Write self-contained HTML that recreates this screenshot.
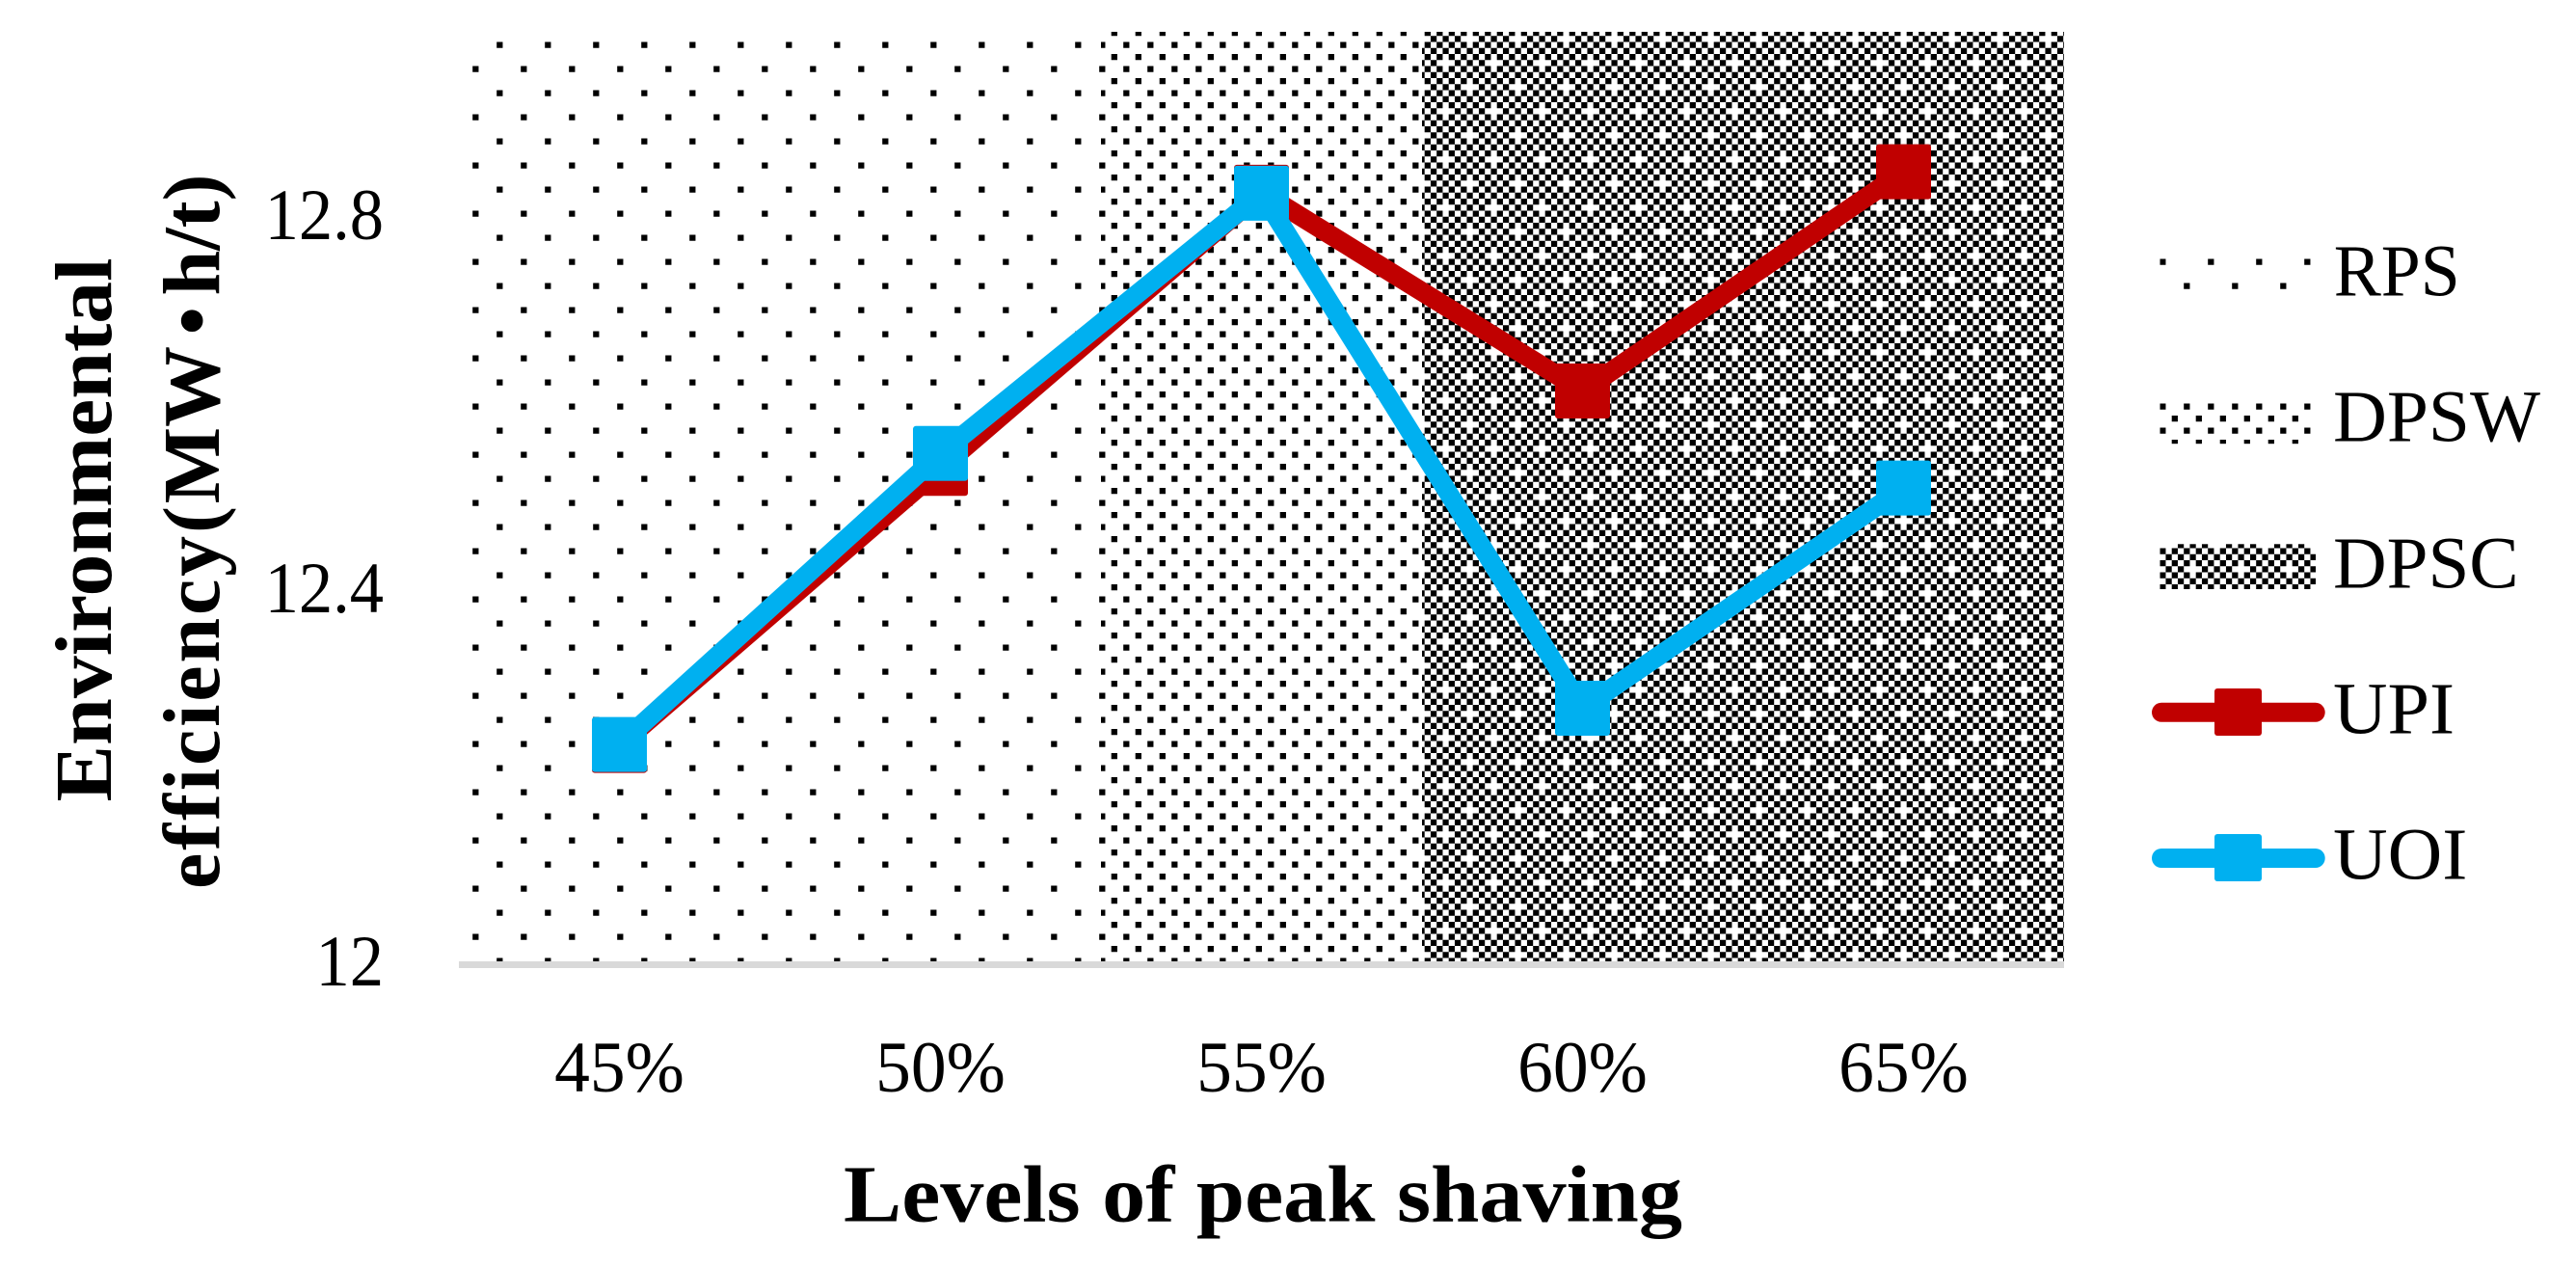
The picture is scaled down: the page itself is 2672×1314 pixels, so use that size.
<!DOCTYPE html>
<html lang="en">
<head>
<meta charset="utf-8">
<title>Environmental efficiency by level of peak shaving</title>
<style>
html,body{margin:0;padding:0;background:#fff;width:2672px;height:1314px;overflow:hidden}
svg{display:block;font-family:"Liberation Serif",serif;fill:#000}
</style>
</head>
<body>
<svg id="chart" xmlns="http://www.w3.org/2000/svg" width="2672" height="1314" viewBox="0 0 2672 1314">
  <defs>
    <pattern id="p-rps" patternUnits="userSpaceOnUse" x="0" y="0" width="50" height="50">
      <rect x="15.2" y="43.5" width="6.25" height="6.25" fill="#000"/>
      <rect x="15.2" y="-6.5" width="6.25" height="6.25" fill="#000"/>
      <rect x="40.2" y="18.5" width="6.25" height="6.25" fill="#000"/>
    </pattern>
    <pattern id="p-dpsw" patternUnits="userSpaceOnUse" x="0" y="0" width="25" height="25">
      <rect x="15.2" y="18.5" width="6.25" height="6.25" fill="#000"/>
      <rect x="2.7" y="6" width="6.25" height="6.25" fill="#000"/>
    </pattern>
    <pattern id="p-dpsc" patternUnits="userSpaceOnUse" x="0" y="0" width="50" height="50">
      <path id="p-dpsc-cells" fill="#000" d=""/>
    </pattern>
  </defs>

  <g id="bands"></g>
  <rect x="476" y="997" width="1665" height="7" fill="#D9D9D9"/>
  <g id="series"></g>
  <g id="y-ticks"></g>
  <g id="x-ticks"></g>

  <text transform="translate(115,549.5) rotate(-90)" text-anchor="middle" font-size="84" font-weight="bold" textLength="564" lengthAdjust="spacingAndGlyphs">Environmental</text>
  <text transform="translate(227,922) rotate(-90)" x="0" y="0" font-size="84" font-weight="bold"><tspan letter-spacing="2.85">efficiency(</tspan><tspan>MW</tspan><tspan dx="11.5">•</tspan><tspan dx="11.5">h/t)</tspan></text>
  <text x="875" y="1266.7" font-size="84" font-weight="bold" textLength="870" lengthAdjust="spacingAndGlyphs">Levels of peak shaving</text>

  <g>
    <g>
      <rect x="2240.5" y="262.5" width="161.5" height="46.7" fill="url(#p-rps)"/>
      <text x="2420.7" y="306.7" font-size="76" textLength="131" lengthAdjust="spacingAndGlyphs">RPS</text>
    </g>
    <g>
      <rect x="2240.5" y="413.5" width="161.5" height="46.7" fill="url(#p-dpsw)"/>
      <text x="2420" y="457.7" font-size="76" textLength="215" lengthAdjust="spacingAndGlyphs">DPSW</text>
    </g>
    <g>
      <rect x="2240.5" y="564.3" width="161.5" height="46.7" fill="url(#p-dpsc)"/>
      <text x="2420" y="609.3" font-size="76" textLength="192.7" lengthAdjust="spacingAndGlyphs">DPSC</text>
    </g>
    <g>
      <line x1="2242" y1="738.8" x2="2401.7" y2="738.8" stroke="#C00000" stroke-width="20" stroke-linecap="round"/>
      <rect x="2297" y="714" width="49" height="49" rx="3" fill="#C00000"/>
      <text x="2420" y="760.7" font-size="76" textLength="126" lengthAdjust="spacingAndGlyphs">UPI</text>
    </g>
    <g>
      <line x1="2242" y1="890" x2="2401.7" y2="890" stroke="#00B0F0" stroke-width="20" stroke-linecap="round"/>
      <rect x="2297" y="865" width="49" height="49" rx="3" fill="#00B0F0"/>
      <text x="2420" y="911.7" font-size="76" textLength="139.3" lengthAdjust="spacingAndGlyphs">UOI</text>
    </g>
  </g>
</svg>

<script>
// Chart data
const categories = ['45%', '50%', '55%', '60%', '65%'];
const upiValues = [12.235, 12.532, 12.828, 12.615, 12.85];
const uoiValues = [12.236, 12.548, 12.827, 12.275, 12.511];
const yTickValues = [12, 12.4, 12.8];
const yTickLabels = ['12', '12.4', '12.8'];
const bandNames = ['rps', 'dpsw', 'dpsc'];
const bandCategoryCounts = [2, 1, 2];
const yMin = 12;
const yMax = 13;

// Axis functions
const plotLeft = 476, plotRight = 2141, plotTop = 33, plotBottom = 1000.5;
const SVG_NS = 'http://www.w3.org/2000/svg';
function xScale(i) {
  return plotLeft + (i + 0.5) * (plotRight - plotLeft) / categories.length;
}
function xEdge(i) {
  return plotLeft + i * (plotRight - plotLeft) / categories.length;
}
function yScale(v) {
  return plotBottom - (v - yMin) / (yMax - yMin) * (plotBottom - plotTop);
}
function make(tag) {
  return document.createElementNS(SVG_NS, tag);
}

// Checker pattern for the DPSC fill: 8x8 cell tile with two missing cells.
// The grid is offset from the tile origin, so one extra row and column wrap round.
(function () {
  const cell = 6.25;
  let d = '';
  for (let j = -1; j < 8; j++) {
    for (let i = -1; i < 8; i++) {
      const wi = (i + 8) % 8;
      const wj = (j + 8) % 8;
      if ((wi + wj) % 2 !== 0) continue;
      if ((wi === 3 && wj === 5) || (wi === 7 && wj === 1)) continue;
      d += 'M' + (2.7 + i * cell) + ' ' + (6 + j * cell) + 'h' + cell + 'v' + cell + 'h-' + cell + 'z';
    }
  }
  document.getElementById('p-dpsc-cells').setAttribute('d', d);
})();

// Background bands
const bandsGroup = document.getElementById('bands');
let bandStart = 0;
bandNames.forEach(function (name, k) {
  const r = make('rect');
  
  
  const x0 = xEdge(bandStart);
  const x1 = xEdge(bandStart + bandCategoryCounts[k]);
  r.setAttribute('x', x0);
  r.setAttribute('y', plotTop);
  r.setAttribute('width', x1 - x0);
  r.setAttribute('height', plotBottom - plotTop);
  r.setAttribute('fill', 'url(#p-' + name + ')');
  bandsGroup.appendChild(r);
  bandStart += bandCategoryCounts[k];
});

// Series
const seriesGroup = document.getElementById('series');
function drawSeries(name, values, color) {
  const poly = make('polyline');
  
  
  poly.setAttribute('points', values.map(function (v, i) {
    return xScale(i) + ',' + yScale(v);
  }).join(' '));
  poly.setAttribute('fill', 'none');
  poly.setAttribute('stroke', color);
  poly.setAttribute('stroke-width', '20');
  poly.setAttribute('stroke-linejoin', 'round');
  poly.setAttribute('stroke-linecap', 'round');
  seriesGroup.appendChild(poly);
  values.forEach(function (v, i) {
    const m = make('rect');
    
    
    m.setAttribute('x', xScale(i) - 28.5);
    m.setAttribute('y', yScale(v) - 28.5);
    m.setAttribute('width', 57);
    m.setAttribute('height', 57);
    m.setAttribute('rx', 3);
    m.setAttribute('fill', color);
    seriesGroup.appendChild(m);
  });
}
drawSeries('upi', upiValues, '#C00000');
drawSeries('uoi', uoiValues, '#00B0F0');

// Y ticks
const yGroup = document.getElementById('y-ticks');
yTickValues.forEach(function (v, i) {
  const t = make('text');
  
  
  t.setAttribute('x', 398);
  t.setAttribute('y', yScale(v) + 21.5);
  t.setAttribute('text-anchor', 'end');
  t.setAttribute('font-size', '75');
  t.textContent = yTickLabels[i];
  yGroup.appendChild(t);
  t.setAttribute('textLength', t.getComputedTextLength() * 0.94);
  t.setAttribute('lengthAdjust', 'spacingAndGlyphs');
});

// X ticks
const xGroup = document.getElementById('x-ticks');
categories.forEach(function (c, i) {
  const t = make('text');
  
  
  t.setAttribute('x', xScale(i));
  t.setAttribute('y', 1132);
  t.setAttribute('text-anchor', 'middle');
  t.setAttribute('font-size', '75');
  t.textContent = c;
  xGroup.appendChild(t);
  t.setAttribute('textLength', t.getComputedTextLength() * 0.98);
  t.setAttribute('lengthAdjust', 'spacingAndGlyphs');
});
</script>
</body>
</html>
